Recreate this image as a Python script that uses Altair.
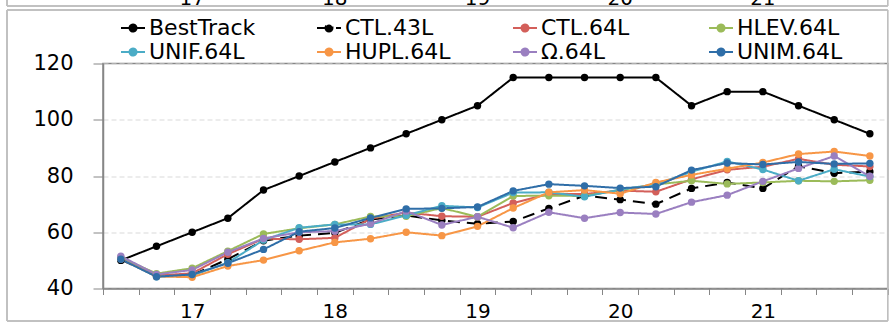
import altair as alt
import pandas as pd

# ---------------- data ----------------
times = ["16/12", "16/18", "17/00", "17/06", "17/12", "17/18", "18/00", "18/06",
         "18/12", "18/18", "19/00", "19/06", "19/12", "19/18", "20/00", "20/06",
         "20/12", "20/18", "21/00", "21/06", "21/12", "21/18"]

series_names = ["BestTrack", "CTL.43L", "CTL.64L", "HLEV.64L",
                "UNIF.64L", "HUPL.64L", "Ω.64L", "UNIM.64L"]

best_track = [50, 55, 60, 65, 75, 80, 85, 90, 95, 100, 105, 115, 115, 115, 115, 115,
              105, 110, 110, 105, 100, 95]
ctl_43l = [50.3, 44.5, 44.8, 50.4, 57.0, 58.8, 59.8, 64.5, 66.0, 64.2, 63.0, 63.8,
           68.5, 73.0, 71.6, 70.0, 75.6, 77.7, 75.6, 83.5, 81.0, 81.5]
ctl_64l = [50.8, 44.6, 45.4, 52.2, 57.7, 57.5, 58.0, 64.8, 67.0, 65.7, 65.5, 70.4,
           73.6, 73.6, 74.8, 74.4, 78.8, 82.2, 83.3, 86.1, 84.0, 83.4]
hlev_64l = [51.0, 45.3, 47.2, 53.3, 59.4, 61.4, 62.8, 65.6, 65.7, 68.6, 65.5, 72.9,
            73.0, 72.9, 75.0, 77.0, 78.3, 77.2, 77.7, 78.3, 78.1, 78.5]
unif_64l = [50.6, 44.2, 44.6, 49.2, 57.2, 61.6, 62.8, 62.8, 66.0, 69.4, 68.8, 74.1,
            74.2, 72.6, 75.2, 77.0, 81.5, 85.2, 82.3, 78.3, 82.4, 79.8]
hupl_64l = [50.5, 44.3, 44.0, 48.0, 50.1, 53.4, 56.4, 57.7, 60.0, 58.8, 62.1, 68.6,
            74.2, 75.0, 73.7, 77.7, 80.4, 82.6, 84.8, 87.8, 88.7, 87.1]
omega_64l = [51.5, 45.0, 46.6, 52.9, 57.8, 60.0, 60.4, 63.0, 67.5, 62.6, 65.5, 61.6,
             67.1, 65.0, 67.0, 66.5, 70.7, 73.2, 78.1, 82.7, 87.1, 79.9]
unim_64l = [50.4, 44.2, 45.0, 49.0, 53.9, 60.2, 61.5, 65.1, 68.3, 68.5, 69.0, 74.7,
            77.1, 76.5, 75.7, 76.2, 82.1, 84.6, 84.1, 85.0, 84.3, 84.5]

series_values = [best_track, ctl_43l, ctl_64l, hlev_64l,
                 unif_64l, hupl_64l, omega_64l, unim_64l]

series_colors = ["#000000", "#000000", "#D35F5A", "#9BBB59",
                 "#4BACC6", "#F79646", "#9A7FC0", "#2F6EA8"]
series_dashes = [[1, 0], [12, 7], [1, 0], [1, 0], [1, 0], [1, 0], [1, 0], [1, 0]]

y_ticks = [40, 60, 80, 100, 120]

# ---------------- tables ----------------
rows = []
for name, vals in zip(series_names, series_values):
    for i, (t, v) in enumerate(zip(times, vals)):
        rows.append({"series": name, "idx": i, "time": t, "value": v})
df = pd.DataFrame(rows)

label_pos = [i for i, t in enumerate(times) if t.endswith("/00")]
day_labels = [times[i].split("/")[0] for i in label_pos]
labels_df = pd.DataFrame({"pos": label_pos, "day": day_labels})

boundaries = [i - 0.5 for i in range(len(times) + 1)]
label_expr = " : ".join(f"datum.value == {p} ? '{d}'" for p, d in zip(label_pos, day_labels)) + " : ''"

FONT = "DejaVu Sans"
AXIS_GRAY = "#868686"

xscale = alt.Scale(domain=[-0.5, len(times) - 0.5], nice=False, zero=False)
yscale = alt.Scale(domain=[40, 120], nice=False, zero=False)

color_scale = alt.Scale(domain=series_names, range=series_colors)
dash_scale = alt.Scale(domain=series_names, range=series_dashes)

sym_path = ("M-1.2,0L3.6,0"
            "M0.5,0a0.7,0.7 0 1,0 1.4,0a0.7,0.7 0 1,0 -1.4,0")

legend = alt.Legend(
    title=None, orient="none", legendX=13, legendY=-46.5, columns=4,
    direction="horizontal",
    columnPadding=56, rowPadding=2, gridAlign="all", padding=0,
    labelFont=FONT, labelFontSize=22, labelColor="black", labelLimit=400,
    symbolType=sym_path, symbolSize=100, symbolStrokeWidth=2,
    labelOffset=11, symbolOffset=0,
)

tick_axis = alt.Axis(values=boundaries, labels=False, ticks=True, tickSize=6,
                     tickColor=AXIS_GRAY, tickWidth=1, domain=True, orient="bottom",
                     domainColor=AXIS_GRAY, domainWidth=1.5, grid=False, title=None)
label_axis = alt.Axis(values=label_pos, labelExpr=label_expr, ticks=False, orient="bottom",
                      domain=False, grid=False, labelFont=FONT, labelFontSize=20,
                      labelColor="black", labelPadding=13, labelFlush=False,
                      labelOverlap=False, title=None)
y_axis = alt.Axis(values=y_ticks, grid=True, gridColor="#D9D9D9", gridDash=[5, 3],
                  gridWidth=1, tickSize=10, tickColor=AXIS_GRAY, tickWidth=1,
                  domainColor=AXIS_GRAY, domainWidth=1.5, labelFont=FONT,
                  labelFontSize=21, labelColor="black", labelPadding=20, title=None)

# decorations (frames of this and previous chart)
prev_frame = alt.Chart(labels_df).mark_rect(
    fill="transparent", stroke="#BFBFBF", strokeWidth=1
).encode(x=alt.value(-96), x2=alt.value(784.7), y=alt.value(-90), y2=alt.value(-57.5))

frame = alt.Chart(labels_df).mark_rect(
    fill="transparent", stroke="#BFBFBF", strokeWidth=1
).encode(x=alt.value(-96), x2=alt.value(784.7), y=alt.value(-53.5), y2=alt.value(257.5))

prev_labels = alt.Chart(labels_df).mark_text(
    font=FONT, fontSize=20, color="black", baseline="alphabetic"
).encode(x=alt.X("pos:Q", scale=xscale, axis=None), y=alt.value(-59), text="day:N")

lines = alt.Chart(df).mark_line(strokeWidth=2).encode(
    x=alt.X("idx:Q", scale=xscale, axis=tick_axis),
    y=alt.Y("value:Q", scale=yscale, axis=y_axis),
    color=alt.Color("series:N", scale=color_scale, legend=legend, sort=series_names),
    strokeDash=alt.StrokeDash("series:N", scale=dash_scale, legend=legend, sort=series_names),
)

points = alt.Chart(df).mark_circle(size=55, opacity=1).encode(
    x=alt.X("idx:Q", scale=xscale, axis=label_axis),
    y=alt.Y("value:Q", scale=yscale),
    color=alt.Color("series:N", scale=color_scale, legend=legend, sort=series_names),
)

chart = alt.layer(prev_frame, frame, prev_labels, lines, points).resolve_axis(
    x="independent"
).properties(
    width=784.7, height=225,
    autosize=alt.AutoSizeParams(type="none"),
    padding={"left": 103, "top": 63.5, "right": 4.3, "bottom": 34.5},
    background="white",
).configure_view(stroke=AXIS_GRAY, strokeWidth=1.5)

chart.save("out.html", embed_options={"renderer": "svg", "actions": False})
